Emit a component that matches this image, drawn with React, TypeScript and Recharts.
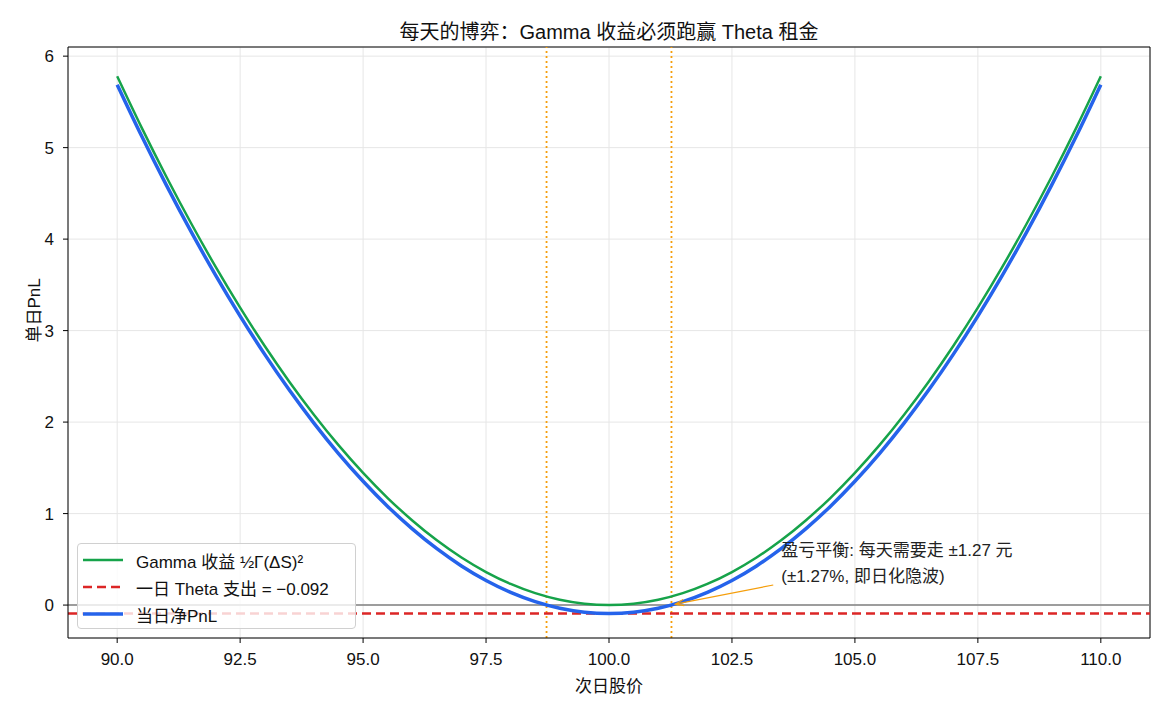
import React from 'react';
import {
  ComposedChart, Line, XAxis, YAxis, CartesianGrid, ReferenceLine,
} from 'recharts';

// next-day price grid, 0.5 step around spot 100
const prices = [
  90, 90.5, 91, 91.5, 92, 92.5, 93, 93.5, 94, 94.5, 95, 95.5, 96, 96.5, 97, 97.5, 98, 98.5, 99, 99.5,
  100, 100.5, 101, 101.5, 102, 102.5, 103, 103.5, 104, 104.5, 105, 105.5, 106, 106.5, 107, 107.5,
  108, 108.5, 109, 109.5, 110,
];

// gamma gain ½Γ(ΔS)²
const gammaPnl = [
  5.78, 5.216, 4.682, 4.176, 3.699, 3.251, 2.832, 2.442, 2.081, 1.748, 1.445, 1.17, 0.925, 0.708,
  0.52, 0.361, 0.231, 0.13, 0.058, 0.0145, 0, 0.0145, 0.058, 0.13, 0.231, 0.361, 0.52, 0.708, 0.925,
  1.17, 1.445, 1.748, 2.081, 2.442, 2.832, 3.251, 3.699, 4.176, 4.682, 5.216, 5.78,
];

// net daily pnl after paying theta
const netPnl = [
  5.688, 5.124, 4.59, 4.084, 3.607, 3.159, 2.74, 2.35, 1.989, 1.656, 1.353, 1.078, 0.833, 0.616,
  0.428, 0.269, 0.139, 0.038, -0.034, -0.0775, -0.092, -0.0775, -0.034, 0.038, 0.139, 0.269, 0.428,
  0.616, 0.833, 1.078, 1.353, 1.656, 1.989, 2.35, 2.74, 3.159, 3.607, 4.084, 4.59, 5.124, 5.688,
];

const thetaCost = -0.092;
const breakevens = [98.73, 101.27];
const xTicks = [90, 92.5, 95, 97.5, 100, 102.5, 105, 107.5, 110];
const yTicks = [0, 1, 2, 3, 4, 5, 6];
const xDomain = [89, 111];
const yDomain = [-0.36, 6.1];

const legendItems = [
  { label: 'Gamma 收益 ½Γ(ΔS)²', color: '#16a34a', width: 2.5, dash: '' },
  { label: '一日 Theta 支出 = −0.092', color: '#dc2626', width: 2.5, dash: '9 5' },
  { label: '当日净PnL', color: '#2563eb', width: 3.5, dash: '' },
];

const data = prices.map((p, i) => ({ price: p, gamma: gammaPnl[i], net: netPnl[i] }));

const FONT = "'Liberation Sans', 'Noto Sans CJK SC', sans-serif";
const FS = 17;

// orange arrow from the note to the upper break-even point, with the note text
const AnnotationArrow = (props: any) => {
  const { x1, y1, x2, y2 } = props;
  const ang = Math.atan2(y2 - y1, x2 - x1);
  const len = 9;
  const spread = 0.35;
  const p1 = [x2 - len * Math.cos(ang - spread), y2 - len * Math.sin(ang - spread)];
  const p2 = [x2 - len * Math.cos(ang + spread), y2 - len * Math.sin(ang + spread)];
  return (
    <g>
      <line x1={x1} y1={y1} x2={x2} y2={y2} stroke="#f59e0b" strokeWidth={1.2} />
      <polyline
        points={`${p1[0]},${p1[1]} ${x2},${y2} ${p2[0]},${p2[1]}`}
        fill="none"
        stroke="#f59e0b"
        strokeWidth={1.2}
      />
      <text x={x1 + 8} y={y1 - 29} fontSize={FS} fill="#222" fontFamily={FONT}>
        盈亏平衡: 每天需要走 ±1.27 元
      </text>
      <text x={x1 + 8} y={y1 - 3} fontSize={FS} fill="#222" fontFamily={FONT}>
        (±1.27%, 即日化隐波)
      </text>
    </g>
  );
};

const App = () => {
  return (
    <div style={{ position: 'absolute', left: 0, top: 0, width: 1170, height: 715, background: '#fff', fontFamily: FONT }}>
      <div style={{ position: 'absolute', left: 0, top: 16, width: 1218, textAlign: 'center', fontSize: 20, color: '#111' }}>
        每天的博弈：Gamma 收益必须跑赢 Theta 租金
      </div>
      <ComposedChart
        width={1170}
        height={715}
        data={data}
        margin={{ top: 47, right: 20, bottom: 0, left: 0 }}
      >
        <CartesianGrid stroke="#e6e6e6" strokeWidth={1} />
        <XAxis
          dataKey="price"
          type="number"
          domain={xDomain}
          ticks={xTicks}
          tickFormatter={(v: number) => v.toFixed(1)}
          height={77}
          stroke="#000"
          tickSize={5}
          tickMargin={10}
          tick={{ fill: '#111', fontSize: FS, fontFamily: FONT }}
          allowDataOverflow
          label={{ value: '次日股价', position: 'insideTop', offset: 42, fontSize: FS, fill: '#111', fontFamily: FONT }}
        />
        <YAxis
          type="number"
          domain={yDomain}
          ticks={yTicks}
          width={68}
          stroke="#000"
          tickSize={5}
          tickMargin={9}
          tick={{ fill: '#111', fontSize: FS, fontFamily: FONT }}
          allowDataOverflow
          label={{ value: '单日PnL', angle: -90, position: 'insideLeft', offset: 34, fontSize: FS, fill: '#111', fontFamily: FONT }}
        />
        {/* top and right spines */}
        <ReferenceLine y={yDomain[1]} stroke="#000" strokeWidth={1} />
        <ReferenceLine x={xDomain[1]} stroke="#000" strokeWidth={1} />
        <ReferenceLine y={0} stroke="#808080" strokeWidth={1.5} />
        {breakevens.map((b) => (
          <ReferenceLine key={b} x={b} stroke="#f59e0b" strokeWidth={1.8} strokeDasharray="2 3" />
        ))}
        <Line
          type="monotone"
          dataKey="gamma"
          stroke="#16a34a"
          strokeWidth={2.5}
          dot={false}
          isAnimationActive={false}
        />
        <ReferenceLine y={thetaCost} stroke="#dc2626" strokeWidth={2.5} strokeDasharray="9 5" />
        <Line
          type="monotone"
          dataKey="net"
          stroke="#2563eb"
          strokeWidth={3.5}
          dot={false}
          isAnimationActive={false}
        />
        <ReferenceLine
          segment={[{ x: 103.34, y: 0.219 }, { x: 101.35, y: 0.01 }]}
          shape={<AnnotationArrow />}
        />
      </ComposedChart>
      <div
        style={{
          position: 'absolute', left: 77, top: 543, width: 279, height: 86,
          border: '1px solid #d0d0d0', borderRadius: 4, background: 'rgba(255,255,255,0.8)',
          boxSizing: 'border-box',
        }}
      >
        {legendItems.map((it, i) => (
          <div key={it.label} style={{ position: 'absolute', left: 4, top: 4 + i * 27, height: 24, display: 'flex', alignItems: 'center' }}>
            <svg width={42} height={10}>
              <line x1={1} y1={5} x2={41} y2={5} stroke={it.color} strokeWidth={it.width} strokeDasharray={it.dash || undefined} />
            </svg>
            <span style={{ marginLeft: 12, fontSize: FS, color: '#111', whiteSpace: 'nowrap' }}>{it.label}</span>
          </div>
        ))}
      </div>
    </div>
  );
};

export default App;
